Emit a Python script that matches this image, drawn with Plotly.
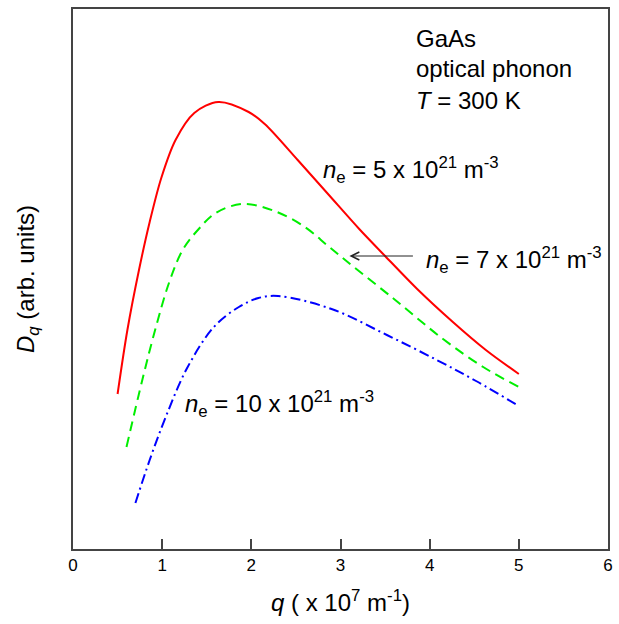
import plotly.graph_objects as go

# q in units of 1e7 m^-1 ; D_q in arbitrary units
q_red = [0.5, 0.61, 0.74, 0.86, 0.99, 1.15, 1.36, 1.63, 1.97, 2.15, 2.52, 2.86, 3.21, 3.5, 3.86, 4.26, 4.63, 5.0]
d_red = [1.55, 2.19, 2.79, 3.27, 3.71, 4.09, 4.36, 4.47, 4.37, 4.25, 3.89, 3.55, 3.20, 2.93, 2.60, 2.27, 1.99, 1.75]

q_green = [0.6, 0.78, 0.93, 1.08, 1.23, 1.41, 1.6, 1.9, 2.26, 2.6, 2.86, 3.08, 3.6, 4.15, 4.6, 5.0]
d_green = [1.02, 1.70, 2.22, 2.67, 2.99, 3.20, 3.36, 3.45, 3.38, 3.22, 3.03, 2.87, 2.50, 2.10, 1.82, 1.62]

q_blue = [0.7, 0.86, 1.04, 1.28, 1.58, 1.86, 2.08, 2.3, 2.9, 3.52, 4.08, 4.52, 5.0]
d_blue = [0.46, 0.89, 1.32, 1.81, 2.22, 2.42, 2.51, 2.53, 2.40, 2.14, 1.89, 1.68, 1.43]

x_ticks = [0, 1, 2, 3, 4, 5, 6]

FONT = "Arial, Liberation Sans, sans-serif"

fig = go.Figure()
fig.add_trace(go.Scatter(x=q_red, y=d_red, mode="lines",
                         line=dict(color="#ff0000", width=2, shape="spline", smoothing=0.9)))
fig.add_trace(go.Scatter(x=q_green, y=d_green, mode="lines",
                         line=dict(color="#00ee00", width=2, shape="spline", smoothing=1.0,
                                   dash="10px,6px")))
fig.add_trace(go.Scatter(x=q_blue, y=d_blue, mode="lines",
                         line=dict(color="#0000ff", width=2, shape="spline", smoothing=1.0,
                                   dash="10px,4px,2px,4px")))

ann_font = dict(family=FONT, size=24, color="black")
annotations = [
    dict(x=3.82, y=5.11, text="GaAs", showarrow=False, xanchor="left", yanchor="middle", font=ann_font),
    dict(x=3.82, y=4.81, text="optical phonon", showarrow=False, xanchor="left", yanchor="middle", font=ann_font),
    dict(x=3.82, y=4.49, text="<i>T</i> = 300 K", showarrow=False, xanchor="left", yanchor="middle", font=ann_font),
    dict(x=2.78, y=3.79, text="<i>n</i><sub>e</sub> = 5 x 10<sup>21</sup> m<sup>-3</sup>",
         showarrow=False, xanchor="left", yanchor="middle", font=ann_font),
    dict(x=3.94, y=2.89, text="<i>n</i><sub>e</sub> = 7 x 10<sup>21</sup> m<sup>-3</sup>",
         showarrow=False, xanchor="left", yanchor="middle", font=ann_font),
    dict(x=1.23, y=1.45, text="<i>n</i><sub>e</sub> = 10 x 10<sup>21</sup> m<sup>-3</sup>",
         showarrow=False, xanchor="left", yanchor="middle", font=ann_font),
    dict(x=3.1, y=2.93, text="", showarrow=True, ax=65, ay=0, arrowhead=5, arrowsize=1.6,
         arrowwidth=1, arrowcolor="#222222"),
]

fig.update_layout(
    width=619, height=624,
    margin=dict(l=73, r=6, t=9, b=75),
    paper_bgcolor="white", plot_bgcolor="white",
    showlegend=False,
    font=dict(family=FONT, color="black"),
    annotations=annotations,
    xaxis=dict(range=[0, 6], tickvals=x_ticks, ticktext=[str(t) for t in x_ticks],
               ticks="inside", ticklen=10, tickwidth=1.5, tickcolor="#444444",
               showline=True, linecolor="#444444", linewidth=1.5, mirror=True,
               showgrid=False, zeroline=False,
               tickfont=dict(family=FONT, size=17, color="black"),
               title=dict(text="<i>q</i> ( x 10<sup>7</sup> m<sup>-1</sup>)",
                          font=dict(family=FONT, size=24, color="black"), standoff=20)),
    yaxis=dict(range=[0, 5.4], showticklabels=False, ticks="",
               showline=True, linecolor="#444444", linewidth=1.5, mirror=True,
               showgrid=False, zeroline=False,
               title=dict(text="<i>D</i><sub><i>q</i></sub> (arb. units)",
                          font=dict(family=FONT, size=24, color="black"), standoff=30)),
)

fig.write_html(
    "out.html",
    config={"displayModeBar": False},
    post_script="document.body.style.margin='0';document.body.style.overflow='hidden';"
                "document.documentElement.style.overflow='hidden';",
)
